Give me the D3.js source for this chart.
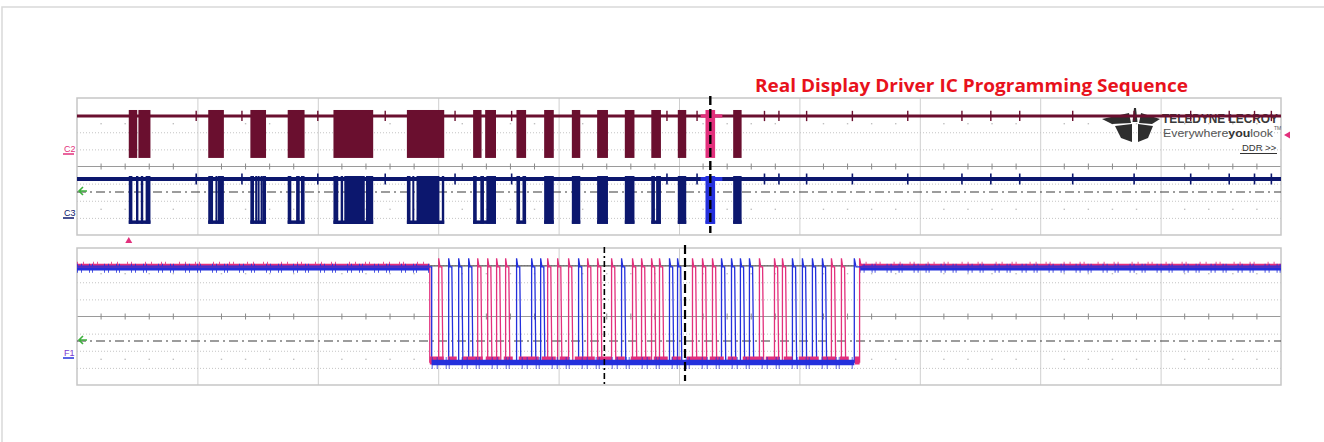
<!DOCTYPE html>
<html>
<head>
<meta charset="utf-8">
<script src="https://cdn.jsdelivr.net/npm/d3@7"></script>
<style>
  body { margin: 0; background: #fff; }
  svg { display: block; }
</style>
</head>
<body>
<svg id="scope" width="1324" height="442"></svg>
<script>
// time in screen divisions (10 across), amplitude in divisions (8 tall, 0 = centre)

// upper panel: C2 bursts (dense toggling) and C3 bars
const c2Bursts = [[0.43, 0.50], [0.51, 0.61], [1.09, 1.22], [1.44, 1.57], [1.75, 1.89],
  [2.13, 2.46], [2.74, 3.05], [3.29, 3.36], [3.39, 3.48], [3.65, 3.73], [3.88, 3.96],
  [4.11, 4.18], [4.32, 4.41], [4.55, 4.63], [4.77, 4.85], [4.99, 5.06], [5.22, 5.30], [5.45, 5.52]];
const c3Frames = [[0.43, 0.61], [1.09, 1.22], [1.44, 1.57], [1.75, 1.89], [2.13, 2.46],
  [2.74, 3.05], [3.29, 3.48], [3.65, 3.73], [3.88, 3.96], [4.11, 4.18], [4.32, 4.41],
  [4.55, 4.63], [4.77, 4.85], [4.99, 5.06], [5.22, 5.30], [5.45, 5.52]];
const c3Bars = [[0.43, 0.46], [0.49, 0.51], [0.53, 0.55], [0.57, 0.61],
  [1.09, 1.13], [1.15, 1.165], [1.17, 1.22],
  [1.44, 1.47], [1.48, 1.49], [1.50, 1.51], [1.525, 1.535], [1.54, 1.57],
  [1.75, 1.78], [1.82, 1.85], [1.86, 1.89],
  [2.13, 2.17], [2.19, 2.21], [2.22, 2.39], [2.40, 2.46],
  [2.74, 2.77], [2.785, 2.80], [2.82, 3.01], [3.03, 3.05],
  [3.29, 3.32], [3.35, 3.38], [3.40, 3.48],
  [3.65, 3.68], [3.70, 3.73], [3.88, 3.96], [4.11, 4.18], [4.32, 4.41], [4.55, 4.63],
  [4.77, 4.80], [4.81, 4.85], [4.99, 5.06], [5.22, 5.30], [5.45, 5.52]];
const glitches = [0.99, 1.37, 2.00, 2.56, 3.14, 3.61, 4.90, 5.15, 5.71, 5.83, 6.06, 6.44,
  6.90, 7.35, 7.59, 7.83, 8.27, 8.78, 9.25, 9.57, 9.78, 9.92];
const zoomWindow = [5.18, 5.36];

const c2Level = { high: 2.95, low: 0.5, top: 3.3 };
const c3Level = { high: -0.73, low: -3.25 };

// lower panel: two bit streams, high pulses start times
const pinkPulses = [3.004, 3.328, 3.411, 3.485, 3.560, 3.909, 3.992, 4.083, 4.241, 4.324,
  4.440, 4.614, 4.689, 4.772, 4.838, 5.112, 5.195, 5.278, 5.668, 5.793, 5.859, 6.266, 6.349];
const bluePulses = [3.087, 3.170, 3.253, 3.651, 3.776, 3.851, 4.166, 4.523, 4.921, 4.988,
  5.353, 5.436, 5.510, 5.585, 5.942, 6.025, 6.108, 6.191];
const pinkActive = [2.93, 6.50];
const blueActive = [2.946, 6.456];
const busLevel = { high: 2.9, low: -2.66, peak: 3.4 };
const pulseWidth = 0.035;

// cursors, trigger markers, reference lines
const topCursor = 5.26;
const bottomCursors = [4.38, 5.05];
const triggerTime = 0.43;
const triggerLevel = 1.84;
const refLines = { upper: -1.49, lower: -1.43 };

const svg = d3.select('#scope');
const x = d3.scaleLinear().domain([0, 10]).range([77, 1281]);
const yTop = d3.scaleLinear().domain([-4, 4]).range([235, 98]);
const yBot = d3.scaleLinear().domain([-4, 4]).range([385, 248]);

const maroon = '#6a0f2f', navy = '#0c176e', pink = '#e2307c', blue = '#2430dc';

// outer frame of the slide
svg.append('path').attr('d', 'M2,442V7H1324').attr('fill', 'none')
  .attr('stroke', '#d9d9d9').attr('stroke-width', 1.5);

svg.append('text')
  .attr('x', 755).attr('y', 92)
  .attr('textLength', 433).attr('lengthAdjust', 'spacingAndGlyphs')
  .style('font-family', "'Open Sans', sans-serif")
  .style('font-weight', 'bold').style('font-size', '18px')
  .attr('fill', '#e8121c')
  .text('Real Display Driver IC Programming Sequence');

function drawGrid(y) {
  const g = svg.append('g');
  const [y0, y1] = y.range();
  g.append('g').attr('transform', `translate(0,${y0})`)
    .call(d3.axisBottom(x).tickValues(d3.range(1, 10)).tickSize(-(y0 - y1)).tickFormat(''))
    .call(a => a.select('.domain').remove())
    .selectAll('line').attr('stroke', '#cfcfcf');
  g.append('g').attr('transform', `translate(${x(0)},0)`)
    .call(d3.axisLeft(y).tickValues([-3, -2, -1, 1, 2, 3]).tickSize(-(x(10) - x(0))).tickFormat(''))
    .call(a => a.select('.domain').remove())
    .selectAll('line').attr('stroke', '#c4c4c4').attr('stroke-dasharray', '1,2');
  g.append('line').attr('x1', x(0)).attr('x2', x(10)).attr('y1', y(0)).attr('y2', y(0))
    .attr('stroke', '#9a9a9a').attr('stroke-width', 1);
  const minor = d3.range(0.2, 10, 0.2).filter(v => Math.abs(v - Math.round(v)) > 0.01);
  g.append('g').selectAll('line').data(minor).join('line')
    .attr('x1', d => x(d)).attr('x2', d => x(d))
    .attr('y1', y(0) - 3).attr('y2', y(0) + 3)
    .attr('stroke', '#8a8a8a');
  [2.5, -2.5].forEach(lv => {
    g.append('g').selectAll('rect').data(minor).join('rect')
      .attr('x', d => x(d) - 0.7).attr('y', y(lv) - 0.7)
      .attr('width', 1.4).attr('height', 1.4).attr('fill', '#c0c0c0');
  });
  g.append('rect').attr('x', x(0)).attr('y', y1)
    .attr('width', x(10) - x(0)).attr('height', y0 - y1)
    .attr('fill', 'none').attr('stroke', '#c6c6c6').attr('stroke-width', 1.5);
  return g;
}

drawGrid(yTop);
drawGrid(yBot);

// reference (dash-dot) lines
[[yTop, refLines.upper], [yBot, refLines.lower]].forEach(([y, v]) => {
  svg.append('line').attr('x1', x(0)).attr('x2', x(10)).attr('y1', y(v)).attr('y2', y(v))
    .attr('stroke', '#3a3a3a').attr('stroke-width', 1.2).attr('stroke-dasharray', '9,4,2,4');
});

// Teledyne LeCroy logo
const logo = svg.append('g').attr('fill', '#2e2e2e');
[
  [[1102, 119], [1129, 113], [1131, 123], [1112, 124]],
  [[1160, 119], [1141, 113], [1139, 123], [1152, 124]],
  [[1134, 108], [1136, 108], [1137.5, 122], [1132.5, 122]],
  [[1115, 126], [1132, 124], [1132, 142], [1121, 138]],
  [[1138, 124], [1153, 126], [1148, 138], [1138, 142]]
].forEach(pts => logo.append('polygon').attr('points', pts.join(' ')));
svg.append('text').attr('x', 1162).attr('y', 123)
  .attr('textLength', 116).attr('lengthAdjust', 'spacingAndGlyphs')
  .style('font-family', "'Liberation Sans', sans-serif")
  .style('font-weight', 'bold').style('font-size', '12.5px').attr('fill', '#3a3a3a')
  .text('TELEDYNE LECROY');
const ev = svg.append('text').attr('x', 1163).attr('y', 137)
  .attr('textLength', 110).attr('lengthAdjust', 'spacingAndGlyphs')
  .style('font-family', "'Liberation Sans', sans-serif").style('font-size', '11.5px')
  .attr('fill', '#555');
ev.append('tspan').text('Everywhere');
ev.append('tspan').style('font-weight', 'bold').attr('fill', '#333').text('you');
ev.append('tspan').text('look');
svg.append('text').attr('x', 1274).attr('y', 130).style('font-size', '5px')
  .style('font-family', 'sans-serif').attr('fill', '#555').text('TM');
svg.append('text').attr('x', 1242).attr('y', 151)
  .style('font-family', "'Liberation Sans', sans-serif").style('font-size', '9.5px')
  .attr('fill', '#333').text('DDR >>');
svg.append('line').attr('x1', 1240).attr('x2', 1277).attr('y1', 153.5).attr('y2', 153.5)
  .attr('stroke', '#333').attr('stroke-width', 1);

// ---- upper panel traces ----
const inZoom = d => d[0] >= zoomWindow[0] && d[1] <= zoomWindow[1];
const upperG = svg.append('g');

// C2
upperG.append('line').attr('x1', x(0)).attr('x2', x(10))
  .attr('y1', yTop(c2Level.high)).attr('y2', yTop(c2Level.high))
  .attr('stroke', maroon).attr('stroke-width', 3.2);
upperG.append('line').attr('x1', x(zoomWindow[0])).attr('x2', x(zoomWindow[1]))
  .attr('y1', yTop(c2Level.high)).attr('y2', yTop(c2Level.high))
  .attr('stroke', pink).attr('stroke-width', 3.2);
upperG.append('g').selectAll('line').data(glitches).join('line')
  .attr('x1', d => x(d)).attr('x2', d => x(d))
  .attr('y1', yTop(c2Level.high + 0.3)).attr('y2', yTop(c2Level.high - 0.3))
  .attr('stroke', maroon).attr('stroke-width', 1.4);
upperG.append('g').selectAll('rect').data(c2Bursts).join('rect')
  .attr('x', d => x(d[0])).attr('width', d => x(d[1]) - x(d[0]))
  .attr('y', yTop(c2Level.top)).attr('height', yTop(c2Level.low) - yTop(c2Level.top))
  .attr('fill', d => inZoom(d) ? pink : maroon);

// C3
upperG.append('line').attr('x1', x(0)).attr('x2', x(10))
  .attr('y1', yTop(c3Level.high)).attr('y2', yTop(c3Level.high))
  .attr('stroke', navy).attr('stroke-width', 4);
upperG.append('line').attr('x1', x(zoomWindow[0])).attr('x2', x(zoomWindow[1]))
  .attr('y1', yTop(c3Level.high)).attr('y2', yTop(c3Level.high))
  .attr('stroke', blue).attr('stroke-width', 4);
upperG.append('g').selectAll('line').data(glitches).join('line')
  .attr('x1', d => x(d)).attr('x2', d => x(d))
  .attr('y1', yTop(c3Level.high + 0.32)).attr('y2', yTop(c3Level.high - 0.32))
  .attr('stroke', navy).attr('stroke-width', 1.6);
upperG.append('g').selectAll('line').data(c3Frames).join('line')
  .attr('x1', d => x(d[0])).attr('x2', d => x(d[1]))
  .attr('y1', yTop(c3Level.low)).attr('y2', yTop(c3Level.low))
  .attr('stroke', d => inZoom(d) ? blue : navy).attr('stroke-width', 3.5);
upperG.append('g').selectAll('rect').data(c3Bars).join('rect')
  .attr('x', d => x(d[0])).attr('width', d => Math.max(2, x(d[1]) - x(d[0])))
  .attr('y', yTop(c3Level.high) - 3).attr('height', yTop(c3Level.low) - yTop(c3Level.high) + 4.5)
  .attr('fill', d => inZoom(d) ? blue : navy);

// upper cursor
svg.append('line').attr('x1', x(topCursor)).attr('x2', x(topCursor))
  .attr('y1', 96).attr('y2', 233)
  .attr('stroke', '#000').attr('stroke-width', 2.4).attr('stroke-dasharray', '9,4');

// ---- lower panel traces ----
const lowerG = svg.append('g');

function busPath(pulses, active) {
  const p = d3.path();
  p.moveTo(x(0), yBot(busLevel.high));
  p.lineTo(x(active[0]), yBot(busLevel.high));
  p.lineTo(x(active[0]), yBot(busLevel.low));
  pulses.forEach(t => {
    p.lineTo(x(t), yBot(busLevel.low));
    p.lineTo(x(t), yBot(busLevel.peak));
    p.lineTo(x(t + pulseWidth * 0.3), yBot(busLevel.high));
    p.lineTo(x(t + pulseWidth * 0.75), yBot(busLevel.high));
    p.lineTo(x(t + pulseWidth), yBot(busLevel.low));
  });
  p.lineTo(x(active[1]), yBot(busLevel.low));
  p.lineTo(x(active[1]), yBot(busLevel.peak));
  p.lineTo(x(active[1] + pulseWidth * 0.4), yBot(busLevel.high));
  p.lineTo(x(10), yBot(busLevel.high));
  return p.toString();
}

// idle-high bands (noisy)
const hi = yBot(busLevel.high), lo = yBot(busLevel.low);
[[0, pinkActive[0]], [pinkActive[1], 10]].forEach(([a, b]) => {
  lowerG.append('line').attr('x1', x(a)).attr('x2', x(b)).attr('y1', hi - 2).attr('y2', hi - 2)
    .attr('stroke', pink).attr('stroke-width', 2.2);
  lowerG.append('line').attr('x1', x(a)).attr('x2', x(b)).attr('y1', hi - 1.5).attr('y2', hi - 1.5)
    .attr('stroke', pink).attr('stroke-width', 7).attr('stroke-dasharray', '1,5,1,9,1,3,1,13')
    .attr('opacity', 0.8);
  lowerG.append('line').attr('x1', x(a)).attr('x2', x(b)).attr('y1', hi + 1.2).attr('y2', hi + 1.2)
    .attr('stroke', blue).attr('stroke-width', 5);
  lowerG.append('line').attr('x1', x(a)).attr('x2', x(b)).attr('y1', hi + 1.5).attr('y2', hi + 1.5)
    .attr('stroke', blue).attr('stroke-width', 9).attr('stroke-dasharray', '1,3,1,7,1,2,1,11')
    .attr('opacity', 0.8);
});
// gray level line over active region
lowerG.append('line').attr('x1', x(pinkActive[0])).attr('x2', x(blueActive[1]))
  .attr('y1', hi - 1).attr('y2', hi - 1).attr('stroke', '#555').attr('stroke-width', 1.2);

lowerG.append('path').attr('d', busPath(pinkPulses, pinkActive))
  .attr('fill', 'none').attr('stroke', pink).attr('stroke-width', 1.3);
lowerG.append('path').attr('d', busPath(bluePulses, blueActive))
  .attr('fill', 'none').attr('stroke', blue).attr('stroke-width', 1.3);

// active-low bands (noisy)
lowerG.append('line').attr('x1', x(pinkActive[0])).attr('x2', x(pinkActive[1]))
  .attr('y1', lo - 1.5).attr('y2', lo - 1.5).attr('stroke', pink).attr('stroke-width', 8)
  .attr('stroke-dasharray', '14,4,9,6,20,3');
lowerG.append('line').attr('x1', x(blueActive[0])).attr('x2', x(blueActive[1]))
  .attr('y1', lo + 0.5).attr('y2', lo + 0.5).attr('stroke', blue).attr('stroke-width', 5.5);
lowerG.append('line').attr('x1', x(blueActive[0])).attr('x2', x(blueActive[1]))
  .attr('y1', lo + 1).attr('y2', lo + 1).attr('stroke', blue).attr('stroke-width', 12)
  .attr('stroke-dasharray', '1,4,1,8,1,2,1,12').attr('opacity', 0.75);

// lower cursors
svg.append('line').attr('x1', x(bottomCursors[0])).attr('x2', x(bottomCursors[0]))
  .attr('y1', 247).attr('y2', 385)
  .attr('stroke', '#000').attr('stroke-width', 1.6).attr('stroke-dasharray', '6,3,2,3');
svg.append('line').attr('x1', x(bottomCursors[1])).attr('x2', x(bottomCursors[1]))
  .attr('y1', 245).attr('y2', 381)
  .attr('stroke', '#000').attr('stroke-width', 2.2).attr('stroke-dasharray', '9,4');

// ---- markers and channel labels ----
const tx = x(triggerTime);
svg.append('polygon').attr('points', `${tx - 3.5},243 ${tx + 3.5},243 ${tx},237`).attr('fill', pink);
const ty = yTop(triggerLevel);
svg.append('polygon').attr('points', `${x(10) + 3},${ty} ${x(10) + 9},${ty - 3.5} ${x(10) + 9},${ty + 3.5}`)
  .attr('fill', pink);

[[yTop, refLines.upper], [yBot, refLines.lower]].forEach(([y, v]) => {
  const yy = y(v) - 1;
  svg.append('path').attr('d', `M${x(0) + 10},${yy}H${x(0) + 2}M${x(0) + 6},${yy - 4}L${x(0) + 2},${yy}L${x(0) + 6},${yy + 4}`)
    .attr('fill', 'none').attr('stroke', '#3db03d').attr('stroke-width', 1.6);
});

const labels = [
  { text: 'C2', y: 152, fill: pink, line: pink },
  { text: 'C3', y: 216, fill: navy, line: navy },
  { text: 'F1', y: 356, fill: '#7a3ad0', line: blue }
];
labels.forEach(l => {
  svg.append('text').attr('x', 64).attr('y', l.y)
    .style('font-family', "'Liberation Sans', sans-serif")
    .style('font-size', '9px').attr('fill', l.fill).text(l.text);
  svg.append('line').attr('x1', 63).attr('x2', 74).attr('y1', l.y + 2).attr('y2', l.y + 2)
    .attr('stroke', l.line).attr('stroke-width', 1.5);
});
</script>
</body>
</html>
